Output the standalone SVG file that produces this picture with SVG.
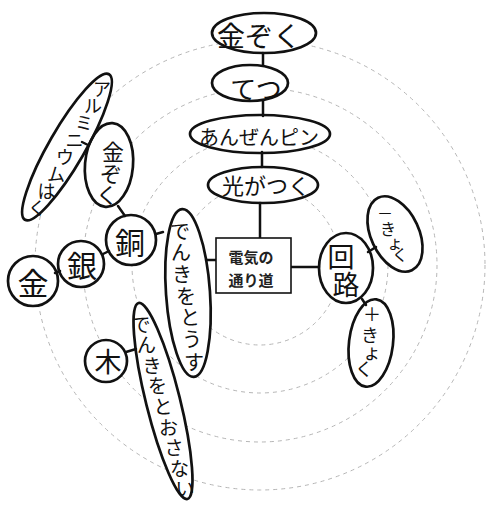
<svg xmlns="http://www.w3.org/2000/svg" xmlns:xlink="http://www.w3.org/1999/xlink" width="486" height="506" viewBox="0 0 486 506">
<style>
  .ring { fill: none; stroke: #b5b5b5; stroke-width: 1; stroke-dasharray: 4 4; }
  .node { fill: none; stroke: #111; stroke-width: 2.7; }
  .conn line { stroke: #111; stroke-width: 2.5; stroke-linecap: round; }
  .t { font-family: "Noto Sans CJK JP", "Noto Sans", sans-serif; fill: #111; stroke: none; text-anchor: middle; dominant-baseline: central; }
  .box { fill: #fff; stroke: #111; stroke-width: 1.6; }
  .bt { font-family: "Noto Sans CJK JP", "Noto Sans", sans-serif; font-weight: bold; font-size: 15px; fill: #222; text-anchor: middle; dominant-baseline: central; }
</style>
<defs>
  <mask id="holes" maskUnits="userSpaceOnUse" x="0" y="0" width="486" height="506">
    <rect x="0" y="0" width="486" height="506" fill="#fff"/>
    <g fill="#000">
      <use xlink:href="#s-kinzoku1"/><use xlink:href="#s-tetsu"/><use xlink:href="#s-anzen"/><use xlink:href="#s-hikari"/>
      <use xlink:href="#s-kairo"/><use xlink:href="#s-minus"/><use xlink:href="#s-plus"/>
      <use xlink:href="#s-tosu"/><use xlink:href="#s-tosanai"/><use xlink:href="#s-do"/><use xlink:href="#s-gin"/>
      <use xlink:href="#s-kin"/><use xlink:href="#s-ki"/><use xlink:href="#s-kinzoku2"/><use xlink:href="#s-alumi"/>
    </g>
  </mask>
</defs>
<rect width="486" height="506" fill="#fff"/>
<g id="rings" mask="url(#holes)">
  <circle class="ring" cx="260" cy="265" r="80"/>
  <circle class="ring" cx="260" cy="265" r="128"/>
  <circle class="ring" cx="260" cy="265" r="177"/>
  <circle class="ring" cx="260" cy="265" r="225"/>
</g>
<g id="connectors" class="conn">
  <line x1="263" y1="53" x2="263" y2="65"/>
  <line x1="263" y1="101" x2="263" y2="116"/>
  <line x1="262" y1="152" x2="262" y2="167"/>
  <line x1="260" y1="203" x2="260" y2="238"/>
  <line x1="291" y1="267" x2="319" y2="267"/>
  <line x1="368" y1="252" x2="376" y2="247"/>
  <line x1="362" y1="299" x2="366" y2="305"/>
  <line x1="216" y1="260" x2="206" y2="260"/>
  <line x1="156" y1="234" x2="163" y2="232"/>
  <line x1="103" y1="254" x2="109" y2="251"/>
  <line x1="55" y1="273" x2="60" y2="271"/>
  <line x1="118" y1="206" x2="125" y2="216"/>
  <line x1="82" y1="142" x2="88" y2="145"/>
  <line x1="126" y1="352" x2="136" y2="349"/>
</g>
<g id="n-kinzoku-top" class="node"><ellipse id="s-kinzoku1" cx="264" cy="33" rx="52" ry="20"/>
  <text class="t" x="259" y="35" font-size="28">金ぞく</text></g>
<g id="n-tetsu" class="node"><ellipse id="s-tetsu" cx="250" cy="83" rx="38" ry="18"/>
  <text class="t" x="256" y="87" font-size="26">てつ</text></g>
<g id="n-anzenpin" class="node"><ellipse id="s-anzen" cx="260" cy="134" rx="70" ry="19"/>
  <text class="t" x="259" y="136" font-size="20">あんぜんピン</text></g>
<g id="n-hikari" class="node"><ellipse id="s-hikari" cx="263" cy="185" rx="55" ry="18"/>
  <text class="t" x="266" y="184" font-size="22">光がつく</text></g>
<g id="n-center">
  <rect class="box" x="216" y="238" width="75" height="55"/>
  <text class="bt" x="251" y="256">電気の</text>
  <text class="bt" x="251" y="279">通り道</text>
</g>
<g id="n-kairo" class="node"><ellipse id="s-kairo" cx="346" cy="268" rx="27" ry="35"/>
  <text class="t" x="341 346" y="255 283" font-size="27">回路</text></g>
<g id="n-minus" class="node"><ellipse id="s-minus" cx="395" cy="234" rx="24" ry="40" transform="rotate(-25 395 234)"/>
  <text class="t" x="385 388 395 400" y="212 228 242 254" font-size="16">－きょく</text></g>
<g id="n-plus" class="node"><ellipse id="s-plus" cx="371" cy="343" rx="22" ry="44" transform="rotate(7 371 343)"/>
  <text class="t" x="372 370 372 364" y="313 334 351 368" font-size="18">＋きょく</text></g>
<g id="n-tosu" class="node"><ellipse id="s-tosu" cx="188" cy="293" rx="22" ry="84" transform="rotate(-4 188 293)"/>
  <text class="t" x="180 181 182 186 190 192 194" y="230 251 273 295 316 338 361" font-size="20">でんきをとうす</text></g>
<g id="n-tosanai" class="node"><ellipse id="s-tosanai" cx="163" cy="401" rx="17" ry="101" transform="rotate(-14 163 401)"/>
  <text class="t" x="141 146.5 152 157.5" y="323 343.6 364.2 384.8" font-size="19">でんきを</text>
  <text class="t" x="163 168.5 174 179.5 185" y="405.4 426 446.6 467.2 487.8" font-size="19">とおさない</text></g>
<g id="n-do" class="node"><circle id="s-do" cx="131" cy="240" r="25"/>
  <text class="t" x="130" y="241" font-size="30">銅</text></g>
<g id="n-gin" class="node"><circle id="s-gin" cx="81" cy="264" r="23"/>
  <text class="t" x="82" y="264" font-size="30">銀</text></g>
<g id="n-kin" class="node"><circle id="s-kin" cx="33" cy="281" r="25"/>
  <text class="t" x="33" y="281" font-size="31">金</text></g>
<g id="n-ki" class="node"><circle id="s-ki" cx="106" cy="361" r="21"/>
  <text class="t" x="108" y="360" font-size="27">木</text></g>
<g id="n-kinzoku-left" class="node"><ellipse id="s-kinzoku2" cx="109" cy="165" rx="24" ry="42" transform="rotate(5 109 165)"/>
  <text class="t" x="113 111 107" y="150 172 193" font-size="22">金ぞく</text></g>
<g id="n-alumi" class="node"><ellipse id="s-alumi" cx="67" cy="147" rx="18" ry="84" transform="rotate(30 67 147)"/>
  <text class="t" x="102 93 84" y="88 105 122" font-size="18">アルミ</text>
  <text class="t" x="74.5 65 56 46.5 37" y="139 156 173 190 207" font-size="18">ニウムはく</text></g>
</svg>
